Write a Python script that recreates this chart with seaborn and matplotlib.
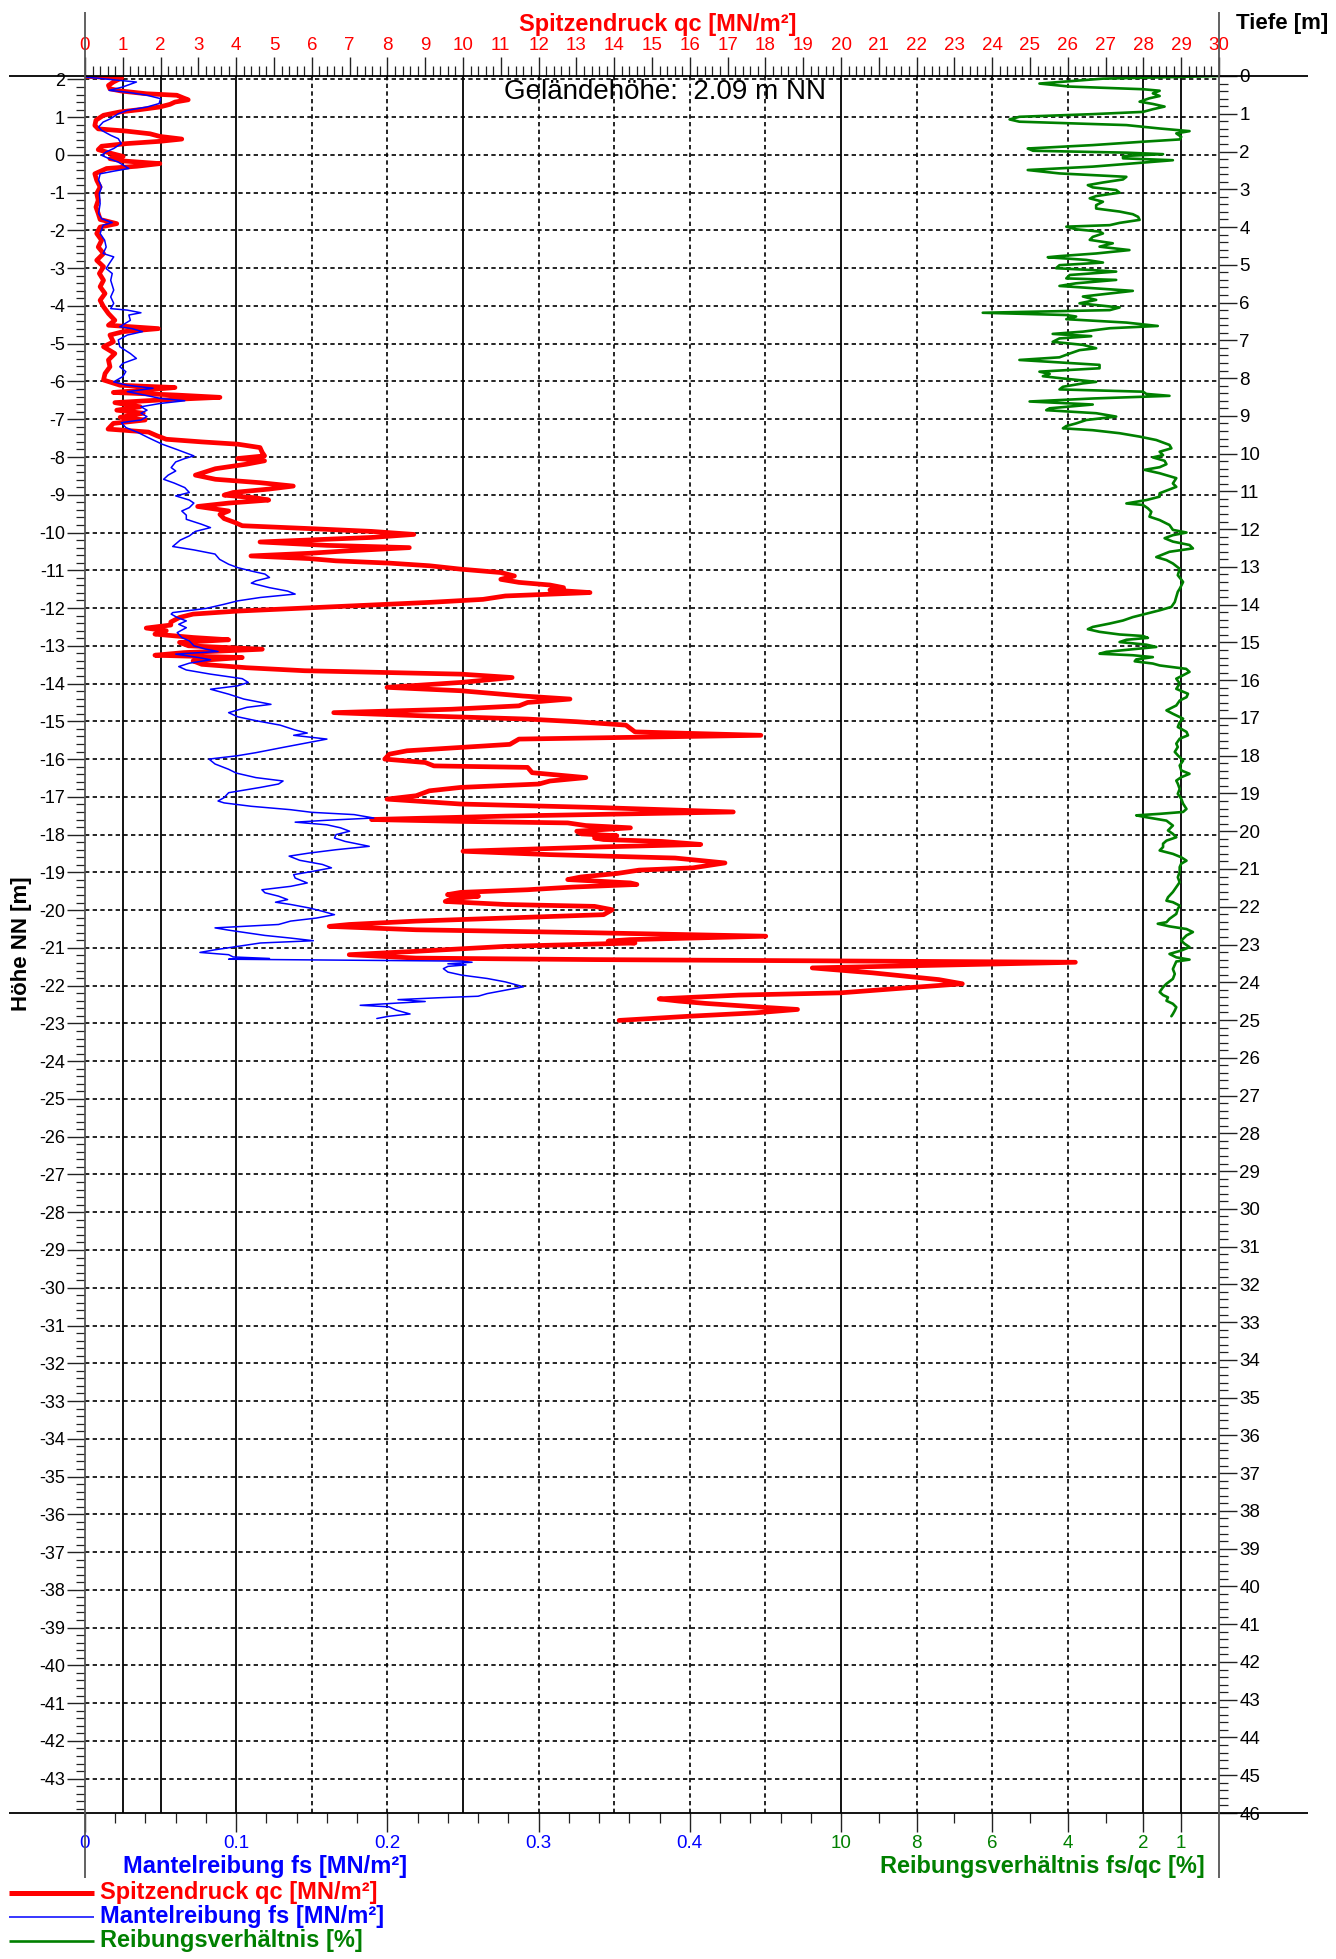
import matplotlib
matplotlib.use("Agg")
import matplotlib.pyplot as plt
from matplotlib.lines import Line2D
from matplotlib.ticker import MultipleLocator, FixedLocator
import numpy as np
import pandas as pd
import seaborn as sns

# ---------------- data ----------------
GROUND = 2.09          # Geländehöhe [m NN]
MAX_DEPTH = 46         # Tiefe axis range [m]

# Spitzendruck qc [MN/m²] vs. Höhe NN [m]
qc_elev = [
    2.08, 2.04, 1.93, 1.84, 1.75, 1.69, 1.62, 1.58, 1.51, 1.46,
    1.40, 1.34, 1.27, 1.20, 1.14, 1.05, 0.92, 0.78, 0.69, 0.63,
    0.56, 0.49, 0.42, 0.36, 0.30, 0.23, 0.14, 0.05, -0.04, -0.10,
    -0.16, -0.23, -0.30, -0.36, -0.50, -0.67, -0.85, -1.02, -1.20, -1.38,
    -1.55, -1.71, -1.82, -1.91, -2.08, -2.26, -2.44, -2.61, -2.79, -2.96,
    -3.14, -3.32, -3.49, -3.67, -3.85, -4.02, -4.20, -4.38, -4.51, -4.60,
    -4.68, -4.77, -4.95, -5.08, -5.26, -5.43, -5.61, -5.79, -5.96, -6.10,
    -6.16, -6.23, -6.29, -6.36, -6.42, -6.49, -6.56, -6.67, -6.76, -6.84,
    -6.95, -7.02, -7.11, -7.26, -7.34, -7.44, -7.53, -7.60, -7.66, -7.75,
    -7.88, -7.97, -8.04, -8.10, -8.19, -8.31, -8.48, -8.59, -8.68, -8.77,
    -8.85, -8.94, -9.01, -9.08, -9.14, -9.22, -9.31, -9.43, -9.52, -9.63,
    -9.74, -9.82, -9.90, -9.97, -10.05, -10.13, -10.25, -10.34, -10.40, -10.49,
    -10.55, -10.62, -10.69, -10.75, -10.81, -10.88, -10.97, -11.06, -11.15, -11.24,
    -11.32, -11.39, -11.46, -11.52, -11.59, -11.68, -11.77, -11.85, -11.92, -12.00,
    -12.08, -12.16, -12.25, -12.37, -12.45, -12.53, -12.60, -12.69, -12.78, -12.84,
    -12.91, -13.00, -13.09, -13.18, -13.25, -13.31, -13.40, -13.49, -13.58, -13.66,
    -13.75, -13.84, -13.97, -14.10, -14.19, -14.33, -14.41, -14.50, -14.59, -14.68,
    -14.77, -14.86, -14.94, -15.01, -15.10, -15.19, -15.28, -15.37, -15.47, -15.61,
    -15.69, -15.78, -15.87, -16.00, -16.09, -16.18, -16.22, -16.36, -16.49, -16.58,
    -16.66, -16.75, -16.84, -16.97, -17.06, -17.19, -17.28, -17.40, -17.51, -17.60,
    -17.65, -17.69, -17.76, -17.82, -17.91, -17.98, -18.03, -18.09, -18.13, -18.18,
    -18.26, -18.33, -18.44, -18.53, -18.62, -18.75, -18.88, -18.94, -19.03, -19.12,
    -19.19, -19.28, -19.32, -19.39, -19.46, -19.53, -19.59, -19.63, -19.70, -19.77,
    -19.85, -19.90, -19.99, -20.12, -20.21, -20.29, -20.38, -20.43, -20.52, -20.60,
    -20.69, -20.78, -20.82, -20.87, -20.96, -21.09, -21.18, -21.27, -21.31, -21.38,
    -21.53, -21.66, -21.84, -21.95, -22.06, -22.19, -22.25, -22.35, -22.41, -22.47,
    -22.56, -22.63, -22.72, -22.81, -22.92,
]
qc_val = [
    0.05, 0.97, 0.75, 0.62, 0.66, 0.97, 1.63, 2.43, 2.60, 2.73,
    2.38, 2.25, 1.98, 1.46, 0.93, 0.49, 0.29, 0.26, 0.35, 1.10,
    1.72, 1.98, 2.56, 1.98, 1.10, 0.44, 0.35, 0.66, 1.01, 0.66,
    1.01, 1.98, 1.37, 0.57, 0.26, 0.31, 0.40, 0.31, 0.35, 0.29,
    0.35, 0.40, 0.84, 0.40, 0.31, 0.44, 0.35, 0.49, 0.31, 0.49,
    0.38, 0.49, 0.40, 0.53, 0.40, 0.49, 0.62, 0.79, 0.62, 1.94,
    1.01, 0.66, 0.75, 0.49, 0.79, 0.62, 0.66, 0.53, 0.49, 0.93,
    2.38, 1.54, 0.75, 2.43, 3.57, 1.98, 0.79, 1.46, 0.84, 1.54,
    0.93, 1.59, 0.75, 0.61, 1.68, 1.91, 2.15, 3.09, 4.04, 4.63,
    4.69, 4.75, 4.04, 4.75, 4.27, 3.45, 2.92, 3.45, 4.63, 5.51,
    4.86, 3.92, 3.68, 4.51, 4.86, 3.80, 2.98, 3.80, 3.57, 3.68,
    3.98, 4.16, 6.04, 7.58, 8.70, 7.58, 4.63, 6.40, 8.58, 6.87,
    5.93, 4.39, 5.93, 6.64, 8.05, 9.11, 9.94, 11.00, 11.36, 11.00,
    11.48, 12.30, 12.66, 12.30, 13.36, 11.12, 10.53, 9.11, 7.58, 5.81,
    4.04, 2.86, 2.50, 2.27, 2.27, 1.62, 2.15, 1.85, 2.86, 3.80,
    2.50, 2.74, 4.69, 2.62, 1.85, 4.16, 2.86, 3.09, 4.27, 5.81,
    9.94, 11.30, 9.94, 7.99, 9.94, 11.59, 12.83, 11.71, 11.48, 9.70,
    6.58, 9.11, 11.71, 13.01, 14.31, 14.43, 14.55, 17.88, 11.48, 11.24,
    9.94, 8.52, 8.05, 7.93, 9.00, 9.23, 11.71, 11.83, 13.25, 12.30,
    12.01, 9.94, 9.11, 8.76, 7.99, 9.94, 13.48, 17.15, 11.12, 7.58,
    9.94, 12.77, 13.25, 14.43, 13.01, 13.13, 14.07, 13.48, 13.72, 15.25,
    16.29, 13.48, 10.00, 12.30, 15.61, 16.93, 16.08, 14.66, 14.07, 13.13,
    12.77, 14.43, 14.60, 12.89, 11.71, 9.94, 9.59, 10.41, 9.70, 9.53,
    11.12, 13.48, 13.95, 13.72, 11.12, 8.76, 6.99, 6.46, 8.76, 13.48,
    18.01, 14.43, 13.84, 14.55, 11.12, 8.76, 6.99, 8.76, 13.48, 26.20,
    19.24, 20.83, 22.59, 23.21, 21.71, 19.99, 17.30, 15.19, 15.72, 16.42,
    17.74, 18.85, 17.74, 15.98, 14.13,
]

# Mantelreibung fs [MN/m²] vs. Höhe NN [m]
fs_elev = [
    2.06, 1.93, 1.80, 1.71, 1.66, 1.58, 1.49, 1.36, 1.27, 1.18,
    1.09, 0.96, 0.87, 0.74, 0.65, 0.52, 0.43, 0.30, 0.17, 0.08,
    -0.01, -0.10, -0.19, -0.36, -0.43, -0.50, -0.67, -0.85, -1.02, -1.29,
    -1.55, -1.69, -1.79, -1.86, -2.08, -2.26, -2.44, -2.61, -2.70, -2.88,
    -3.01, -3.14, -3.32, -3.58, -3.76, -3.93, -4.07, -4.11, -4.18, -4.24,
    -4.38, -4.55, -4.60, -4.68, -4.77, -4.90, -5.08, -5.26, -5.39, -5.52,
    -5.61, -5.74, -5.87, -6.01, -6.10, -6.18, -6.27, -6.34, -6.45, -6.51,
    -6.58, -6.67, -6.76, -6.84, -6.93, -7.02, -7.09, -7.22, -7.35, -7.49,
    -7.66, -7.79, -7.97, -8.04, -8.13, -8.28, -8.37, -8.48, -8.59, -8.69,
    -8.81, -8.94, -9.03, -9.14, -9.22, -9.34, -9.43, -9.54, -9.65, -9.78,
    -9.87, -9.97, -10.09, -10.20, -10.37, -10.46, -10.57, -10.71, -10.84, -10.93,
    -11.02, -11.10, -11.19, -11.28, -11.34, -11.46, -11.55, -11.63, -11.72, -11.81,
    -11.90, -12.01, -12.12, -12.16, -12.25, -12.34, -12.43, -12.52, -12.65, -12.78,
    -12.87, -13.00, -13.09, -13.15, -13.22, -13.31, -13.37, -13.46, -13.55, -13.64,
    -13.75, -13.87, -13.97, -14.06, -14.15, -14.28, -14.41, -14.55, -14.63, -14.77,
    -14.88, -14.99, -15.10, -15.23, -15.31, -15.37, -15.47, -15.56, -15.69, -15.83,
    -15.91, -16.00, -16.13, -16.27, -16.37, -16.49, -16.58, -16.66, -16.75, -16.89,
    -17.02, -17.11, -17.16, -17.25, -17.34, -17.41, -17.47, -17.56, -17.62, -17.67,
    -17.74, -17.82, -17.91, -18.00, -18.09, -18.18, -18.31, -18.40, -18.49, -18.57,
    -18.68, -18.79, -18.88, -18.97, -19.06, -19.15, -19.28, -19.37, -19.46, -19.54,
    -19.63, -19.72, -19.79, -19.85, -19.94, -20.03, -20.12, -20.21, -20.29, -20.38,
    -20.47, -20.53, -20.60, -20.67, -20.74, -20.81, -20.87, -20.96, -21.05, -21.12,
    -21.18, -21.24, -21.28, -21.30, -21.35, -21.38, -21.42, -21.45, -21.49, -21.55,
    -21.64, -21.72, -21.81, -21.90, -22.03, -22.12, -22.21, -22.28, -22.32, -22.37,
    -22.42, -22.46, -22.52, -22.56, -22.65, -22.75, -22.81, -22.87,
]
fs_val = [
    0.001, 0.034, 0.025, 0.016, 0.028, 0.041, 0.050, 0.049, 0.041, 0.028,
    0.022, 0.017, 0.012, 0.009, 0.011, 0.017, 0.022, 0.024, 0.019, 0.014,
    0.011, 0.016, 0.022, 0.029, 0.019, 0.010, 0.009, 0.011, 0.0095, 0.010,
    0.009, 0.011, 0.018, 0.012, 0.010, 0.013, 0.014, 0.012, 0.019, 0.016,
    0.014, 0.018, 0.017, 0.019, 0.017, 0.019, 0.017, 0.028, 0.037, 0.029,
    0.030, 0.023, 0.031, 0.038, 0.028, 0.022, 0.023, 0.030, 0.034, 0.025,
    0.023, 0.027, 0.025, 0.019, 0.028, 0.045, 0.028, 0.037, 0.050, 0.066,
    0.050, 0.037, 0.041, 0.037, 0.041, 0.037, 0.024, 0.027, 0.035, 0.042,
    0.051, 0.060, 0.072, 0.066, 0.060, 0.057, 0.060, 0.055, 0.052, 0.059,
    0.066, 0.069, 0.060, 0.069, 0.072, 0.069, 0.064, 0.067, 0.067, 0.077,
    0.083, 0.073, 0.069, 0.063, 0.058, 0.072, 0.086, 0.089, 0.095, 0.101,
    0.110, 0.119, 0.122, 0.113, 0.110, 0.122, 0.134, 0.139, 0.116, 0.101,
    0.092, 0.080, 0.058, 0.057, 0.061, 0.067, 0.062, 0.067, 0.061, 0.064,
    0.069, 0.072, 0.080, 0.088, 0.060, 0.075, 0.083, 0.069, 0.062, 0.067,
    0.083, 0.104, 0.108, 0.101, 0.083, 0.095, 0.105, 0.123, 0.107, 0.095,
    0.101, 0.114, 0.129, 0.139, 0.147, 0.138, 0.160, 0.148, 0.131, 0.113,
    0.101, 0.082, 0.086, 0.095, 0.100, 0.113, 0.131, 0.128, 0.116, 0.095,
    0.092, 0.088, 0.092, 0.110, 0.136, 0.150, 0.178, 0.191, 0.160, 0.139,
    0.160, 0.169, 0.175, 0.166, 0.165, 0.172, 0.188, 0.166, 0.148, 0.135,
    0.142, 0.157, 0.163, 0.151, 0.138, 0.139, 0.147, 0.136, 0.117, 0.119,
    0.128, 0.134, 0.126, 0.136, 0.148, 0.157, 0.165, 0.153, 0.136, 0.128,
    0.086, 0.095, 0.107, 0.119, 0.136, 0.151, 0.116, 0.101, 0.086, 0.076,
    0.095, 0.098, 0.122, 0.095, 0.249, 0.256, 0.240, 0.252, 0.240, 0.237,
    0.240, 0.249, 0.266, 0.278, 0.290, 0.278, 0.266, 0.260, 0.234, 0.207,
    0.225, 0.207, 0.182, 0.201, 0.206, 0.215, 0.201, 0.193,
]

# Reibungsverhältnis fs/qc [%] vs. Höhe NN [m]
rf_elev = [
    2.09, 2.02, 1.89, 1.81, 1.74, 1.70, 1.63, 1.56, 1.50, 1.41,
    1.35, 1.28, 1.21, 1.14, 1.08, 1.01, 0.94, 0.88, 0.79, 0.70,
    0.63, 0.57, 0.48, 0.41, 0.35, 0.26, 0.17, 0.11, 0.06, 0.02,
    -0.03, -0.09, -0.14, -0.21, -0.31, -0.40, -0.49, -0.58, -0.65, -0.73,
    -0.80, -0.86, -0.93, -1.00, -1.09, -1.15, -1.24, -1.33, -1.42, -1.50,
    -1.57, -1.64, -1.72, -1.80, -1.86, -1.90, -1.97, -2.03, -2.08, -2.17,
    -2.25, -2.34, -2.43, -2.52, -2.61, -2.68, -2.71, -2.78, -2.85, -2.92,
    -3.00, -3.05, -3.09, -3.18, -3.27, -3.31, -3.40, -3.47, -3.53, -3.60,
    -3.67, -3.75, -3.84, -3.93, -4.04, -4.11, -4.18, -4.24, -4.28, -4.35,
    -4.44, -4.53, -4.59, -4.68, -4.74, -4.80, -4.86, -4.95, -5.03, -5.12,
    -5.17, -5.26, -5.36, -5.43, -5.56, -5.65, -5.74, -5.80, -5.86, -5.92,
    -6.01, -6.05, -6.14, -6.21, -6.27, -6.33, -6.38, -6.45, -6.53, -6.61,
    -6.71, -6.76, -6.84, -6.93, -7.02, -7.11, -7.18, -7.24, -7.29, -7.37,
    -7.46, -7.55, -7.68, -7.77, -7.86, -7.95, -8.01, -8.10, -8.19, -8.27,
    -8.34, -8.43, -8.56, -8.70, -8.79, -8.89, -8.96, -9.05, -9.14, -9.23,
    -9.27, -9.36, -9.45, -9.58, -9.67, -9.80, -9.93, -10.00, -10.07, -10.15,
    -10.24, -10.33, -10.42, -10.51, -10.65, -10.73, -10.82, -10.96, -11.13, -11.31,
    -11.49, -11.57, -11.71, -11.84, -11.97, -12.06, -12.15, -12.24, -12.33, -12.41,
    -12.50, -12.56, -12.63, -12.70, -12.74, -12.79, -12.84, -12.90, -12.97, -13.03,
    -13.09, -13.16, -13.21, -13.25, -13.30, -13.36, -13.41, -13.47, -13.52, -13.61,
    -13.69, -13.78, -13.87, -14.00, -14.14, -14.27, -14.36, -14.45, -14.58, -14.71,
    -14.80, -14.93, -15.02, -15.15, -15.28, -15.37, -15.46, -15.59, -15.68, -15.81,
    -15.90, -16.04, -16.17, -16.30, -16.39, -16.48, -16.57, -16.65, -16.79, -16.92,
    -17.05, -17.18, -17.32, -17.40, -17.45, -17.49, -17.54, -17.63, -17.76, -17.89,
    -17.98, -18.07, -18.16, -18.24, -18.33, -18.42, -18.51, -18.60, -18.69, -18.77,
    -18.86, -18.99, -19.13, -19.26, -19.39, -19.52, -19.66, -19.75, -19.79, -19.88,
    -19.97, -20.10, -20.23, -20.32, -20.36, -20.43, -20.50, -20.58, -20.67, -20.81,
    -20.89, -20.98, -21.07, -21.16, -21.25, -21.31, -21.36, -21.45, -21.56, -21.69,
    -21.82, -21.95, -22.04, -22.17, -22.25, -22.31, -22.40, -22.48, -22.57, -22.66,
    -22.75, -22.81,
]
rf_val = [
    0.00, 3.07, 4.75, 3.95, 2.01, 1.57, 1.75, 1.57, 1.84, 2.10,
    1.75, 1.44, 1.75, 2.01, 3.34, 5.28, 5.54, 5.28, 2.45, 1.57,
    0.78, 1.13, 1.00, 1.04, 2.01, 3.34, 5.06, 4.92, 2.45, 1.48,
    2.54, 2.54, 1.22, 2.10, 3.34, 5.06, 4.22, 2.45, 2.54, 3.07,
    3.47, 3.34, 2.72, 2.63, 3.25, 3.42, 3.07, 3.25, 3.25, 2.63,
    2.28, 2.14, 2.10, 2.63, 2.89, 4.04, 3.78, 3.16, 3.07, 3.34,
    3.42, 2.81, 3.16, 2.37, 3.25, 4.22, 4.53, 3.51, 3.07, 4.22,
    4.31, 3.34, 2.72, 3.95, 4.04, 2.72, 3.78, 4.22, 3.34, 2.28,
    2.89, 3.60, 3.25, 3.69, 2.63, 2.89, 6.25, 4.04, 3.78, 4.04,
    2.45, 1.62, 2.89, 3.60, 4.40, 3.38, 4.22, 4.40, 3.60, 3.25,
    3.69, 3.95, 4.22, 5.28, 3.16, 3.16, 4.75, 4.48, 4.66, 4.13,
    3.25, 3.60, 4.13, 4.22, 2.01, 1.92, 1.31, 3.34, 5.01, 3.34,
    4.48, 4.57, 3.25, 2.72, 3.51, 3.78, 4.04, 4.13, 3.34, 2.63,
    2.10, 1.66, 1.31, 1.26, 1.57, 1.48, 1.75, 1.44, 1.39, 1.57,
    1.97, 1.57, 1.13, 1.22, 1.13, 1.39, 1.57, 1.57, 1.92, 2.45,
    2.01, 1.88, 1.79, 1.84, 1.57, 1.31, 1.22, 0.86, 1.22, 1.44,
    1.22, 0.78, 0.69, 1.31, 1.66, 1.39, 1.22, 1.04, 1.09, 0.95,
    1.04, 1.09, 1.13, 1.17, 1.26, 1.57, 1.92, 2.28, 2.54, 2.89,
    3.34, 3.47, 3.16, 2.63, 2.01, 1.88, 2.45, 2.63, 1.92, 1.66,
    2.28, 2.98, 3.16, 2.28, 1.75, 2.19, 2.23, 1.75, 1.57, 0.87,
    0.78, 0.95, 1.13, 1.04, 1.13, 0.82, 0.86, 1.04, 1.13, 1.39,
    1.22, 0.95, 1.04, 1.09, 0.86, 0.82, 1.04, 1.13, 1.09, 1.17,
    1.09, 0.95, 1.04, 1.00, 0.78, 1.00, 1.13, 1.09, 1.04, 1.09,
    1.00, 0.95, 0.86, 0.95, 1.57, 2.19, 1.92, 1.39, 1.22, 1.35,
    1.22, 1.13, 1.39, 1.48, 1.48, 1.57, 1.22, 1.00, 0.86, 1.00,
    1.04, 1.04, 1.09, 1.04, 1.13, 1.22, 1.35, 1.39, 1.22, 1.04,
    1.09, 1.13, 1.31, 1.39, 1.62, 1.31, 0.86, 0.69, 0.86, 1.00,
    0.91, 0.78, 1.00, 1.31, 1.13, 0.78, 1.13, 1.17, 1.22, 1.17,
    1.22, 1.39, 1.48, 1.57, 1.48, 1.35, 1.39, 1.22, 1.13, 1.17,
    1.22, 1.26,
]

# axis ticks / labels
qc_ticks = list(range(0, 31))
elev_ticks = list(range(2, -44, -1))
depth_ticks = list(range(0, 47))
fs_ticks = [0, 0.1, 0.2, 0.3, 0.4]
fs_ticklabels = ["0", "0.1", "0.2", "0.3", "0.4"]
fs_minor = [0.02, 0.04, 0.06, 0.08, 0.12, 0.14, 0.16, 0.18, 0.22, 0.24, 0.26, 0.28,
            0.32, 0.34, 0.36, 0.38, 0.42, 0.44, 0.46, 0.48]
rf_ticks = [10, 8, 6, 4, 2, 1]
rf_ticklabels = ["10", "8", "6", "4", "2", "1"]
rf_minor = [9, 7, 5, 3]
solid_qc_lines = [1, 2, 4, 10, 20, 28, 29]
dashed_qc_lines = [6, 8, 12, 14, 16, 18, 22, 24, 26]

legend_labels = ["Spitzendruck qc [MN/m²]", "Mantelreibung fs [MN/m²]", "Reibungsverhältnis [%]"]

assert len(qc_elev) == len(qc_val)
assert len(fs_elev) == len(fs_val)
assert len(rf_elev) == len(rf_val)

RED, BLUE, GREEN = "#ff0000", "#0000ff", "#008000"

# ---------------- figure ----------------
sns.set_theme(style="white")
plt.rcParams["font.family"] = ["Liberation Sans", "DejaVu Sans"]
plt.rcParams["axes.unicode_minus"] = False

W, H = 1336, 1959
fig = plt.figure(figsize=(W / 100, H / 100), dpi=100)
fig.patch.set_facecolor("white")
L, R, T, B = 85, 1219, 76, 1813
ax = fig.add_axes([L / W, 1 - B / H, (R - L) / W, (B - T) / H])
axd = ax.twinx()
axf = ax.twiny()
axr = ax.twiny()

df_qc = pd.DataFrame({"elev": qc_elev, "qc": qc_val})
df_fs = pd.DataFrame({"elev": fs_elev, "fs": fs_val})
df_rf = pd.DataFrame({"elev": rf_elev, "rf": rf_val})

sns.lineplot(data=df_qc, x="qc", y="elev", ax=ax, sort=False, estimator=None,
             color=RED, lw=3.4, legend=False, zorder=3,
             solid_joinstyle="round", solid_capstyle="round")
sns.lineplot(data=df_fs, x="fs", y="elev", ax=axf, sort=False, estimator=None,
             color=BLUE, lw=1.1, legend=False, zorder=3)
sns.lineplot(data=df_rf, x="rf", y="elev", ax=axr, sort=False, estimator=None,
             color=GREEN, lw=1.9, legend=False, zorder=3,
             solid_joinstyle="round")

ax.set_xlim(0, 30)
ax.set_ylim(GROUND - MAX_DEPTH, GROUND)
axf.set_xlim(0, 0.75)
axr.set_xlim(30, 0)
axd.set_ylim(MAX_DEPTH, 0)

for a in (ax, axd, axf, axr):
    a.set_xlabel("")
    a.set_ylabel("")
    for s in a.spines.values():
        s.set_visible(False)

# grid lines
DASH = (0, (2.6, 2.0))
for y in elev_ticks:
    ax.axhline(y, color="black", lw=1.2, ls=DASH, zorder=1)
for x in dashed_qc_lines:
    ax.axvline(x, color="black", lw=1.2, ls=DASH, zorder=1)
for x in solid_qc_lines:
    ax.axvline(x, color="black", lw=1.3, zorder=1)

TICKC = "#222222"
TL = 13.5   # tick label size
# top axis: qc
ax.xaxis.set_ticks_position("top")
ax.set_xticks(qc_ticks)
ax.set_xticklabels([str(t) for t in qc_ticks])
ax.xaxis.set_minor_locator(MultipleLocator(0.2))
ax.tick_params(axis="x", which="both", top=True, bottom=False, labeltop=True,
               labelbottom=False, direction="out", color=TICKC)
ax.tick_params(axis="x", which="major", length=13.5, width=1.0, labelsize=TL,
               labelcolor=RED, pad=2)
ax.tick_params(axis="x", which="minor", length=7, width=0.9)

# left axis: elevation
ax.set_yticks(elev_ticks)
ax.set_yticklabels([str(t) for t in elev_ticks])
ax.yaxis.set_minor_locator(MultipleLocator(0.2))
ax.tick_params(axis="y", which="both", left=True, right=False, labelleft=True,
               labelright=False, direction="out", color=TICKC)
ax.tick_params(axis="y", which="major", length=13, width=1.0, labelsize=13,
               labelcolor="black", pad=1.5)
ax.tick_params(axis="y", which="minor", length=6.5, width=0.9)

# right axis: depth
axd.set_yticks(depth_ticks)
axd.set_yticklabels([str(t) for t in depth_ticks])
axd.yaxis.set_minor_locator(MultipleLocator(0.2))
axd.tick_params(axis="y", which="both", right=True, left=False, labelright=True,
                labelleft=False, direction="out", color=TICKC)
axd.tick_params(axis="y", which="major", length=13, width=1.0, labelsize=TL,
                labelcolor="black", pad=1.5)
axd.tick_params(axis="y", which="minor", length=6.5, width=0.9)

# bottom axis: fs
axf.xaxis.set_ticks_position("bottom")
axf.set_xticks(fs_ticks)
axf.set_xticklabels(fs_ticklabels)
axf.xaxis.set_minor_locator(FixedLocator(fs_minor))
axf.tick_params(axis="x", which="both", bottom=True, top=False, labelbottom=True,
                labeltop=False, direction="out", color=TICKC)
axf.tick_params(axis="x", which="major", length=13.5, width=1.0, labelsize=TL,
                labelcolor=BLUE, pad=2)
axf.tick_params(axis="x", which="minor", length=7, width=0.9)

# bottom axis: friction ratio
axr.xaxis.set_ticks_position("bottom")
axr.set_xticks(rf_ticks)
axr.set_xticklabels(rf_ticklabels)
axr.xaxis.set_minor_locator(FixedLocator(rf_minor))
axr.tick_params(axis="x", which="both", bottom=True, top=False, labelbottom=True,
                labeltop=False, direction="out", color=TICKC)
axr.tick_params(axis="x", which="major", length=13.5, width=1.0, labelsize=TL,
                labelcolor=GREEN, pad=2)
axr.tick_params(axis="x", which="minor", length=7, width=0.9)

# frame lines extending beyond the plot area
def fline(x0, y0, x1, y1, color="black", lw=1.3):
    fig.add_artist(Line2D([x0 / W, x1 / W], [1 - y0 / H, 1 - y1 / H],
                          color=color, lw=lw, solid_capstyle="butt"))

fline(9, T, 1308, T)
fline(9, B, 1308, B)
fline(L, 12, L, 1878, color="#555555")
fline(R, 12, R, 1878, color="#555555")

# texts
TS = 17
fig.text(658 / W, 1 - 24 / H, "Spitzendruck qc [MN/m²]", color=RED, fontsize=TS,
         fontweight="bold", ha="center", va="center")
fig.text(1236 / W, 1 - 24 / H, "Tiefe [m]", color="black", fontsize=16,
         fontweight="bold", ha="left", va="center")
fig.text(665 / W, 1 - 92 / H, "Geländehöhe:  2.09 m NN", color="black", fontsize=20,
         ha="center", va="center")
fig.text(22 / W, 1 - 944 / H, "Höhe NN [m]", color="black", fontsize=16,
         fontweight="bold", rotation=90, ha="center", va="center")
fig.text(265 / W, 1 - 1866 / H, "Mantelreibung fs [MN/m²]", color=BLUE, fontsize=TS,
         fontweight="bold", ha="center", va="center")
fig.text(1042 / W, 1 - 1866 / H, "Reibungsverhältnis fs/qc [%]", color=GREEN,
         fontsize=TS, fontweight="bold", ha="center", va="center")

# legend
for yy, col, lw, lab in zip([1893, 1917, 1941], [RED, BLUE, GREEN], [3.6, 1.1, 1.9],
                            legend_labels):
    fline(9, yy, 94, yy, color=col, lw=lw)
    fig.text(100 / W, 1 - yy / H, lab, color=col, fontsize=TS, fontweight="bold",
             ha="left", va="center")

fig.savefig("out.png", dpi=100, facecolor="white")
